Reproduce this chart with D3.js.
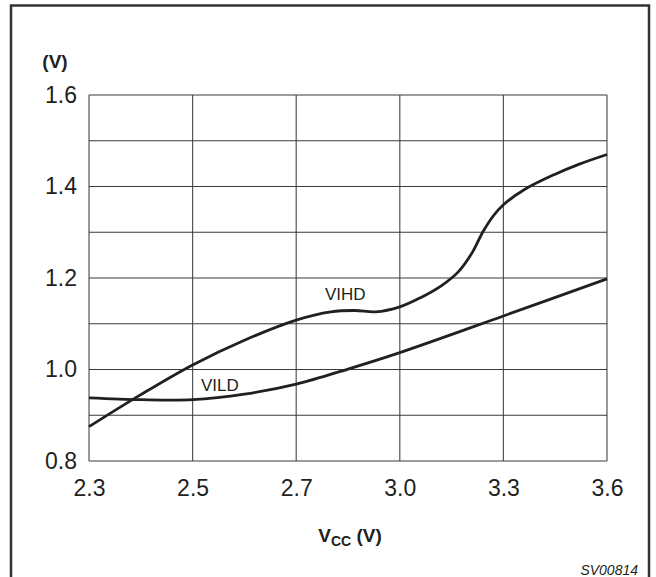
<!DOCTYPE html>
<html>
<head>
<meta charset="utf-8">
<script src="https://cdn.jsdelivr.net/npm/d3@7"></script>
<style>
  body { margin: 0; background: #fff; }
  text { font-family: "Liberation Sans", Arial, Helvetica, sans-serif; fill: #231f20; }
</style>
</head>
<body>
<div id="chart"></div>
<script>
// chart size
const svgWidth = 656, svgHeight = 577;
const margin = { left: 89, right: 49, top: 95, bottom: 116 };
const plotW = svgWidth - margin.left - margin.right;
const plotH = svgHeight - margin.top - margin.bottom;

// tick labels (x ticks are evenly spaced even though values are not)
const xTicks = [2.3, 2.5, 2.7, 3.0, 3.3, 3.6];
const yTicks = [0.8, 1.0, 1.2, 1.4, 1.6];
const yGrid = [0.8, 0.9, 1.0, 1.1, 1.2, 1.3, 1.4, 1.5, 1.6];

// VIHD curve
const vihdVcc = [2.3, 2.4, 2.5, 2.6, 2.7, 2.8, 2.87, 2.93, 3.0, 3.06, 3.12, 3.17, 3.21, 3.24, 3.27, 3.3, 3.36, 3.45, 3.52, 3.6];
const vihdV   = [0.875, 0.945, 1.010, 1.064, 1.108, 1.126, 1.129, 1.126, 1.137, 1.157, 1.183, 1.214, 1.256, 1.300, 1.335, 1.360, 1.393, 1.427, 1.449, 1.470];

// VILD curve
const vildVcc = [2.3, 2.4, 2.5, 2.6, 2.7, 2.85, 3.0, 3.3, 3.6];
const vildV   = [0.938, 0.934, 0.934, 0.946, 0.968, 1.001, 1.037, 1.117, 1.198];

const svg = d3.select('#chart')
  .append('svg')
    .attr('width', svgWidth)
    .attr('height', svgHeight);

// outer frame
svg.append('rect')
    .attr('x', 11)
    .attr('y', 5.5)
    .attr('width', 638)
    .attr('height', 600)
    .attr('fill', 'none')
    .attr('stroke', '#333')
    .attr('stroke-width', 2.5);

const x = d3.scaleLinear()
    .domain(xTicks)
    .range(xTicks.map((d, i) => margin.left + i * plotW / (xTicks.length - 1)));

const y = d3.scaleLinear()
    .domain([0.8, 1.6])
    .range([margin.top + plotH, margin.top]);

// grid
const grid = svg.append('g').attr('stroke', '#3a3a3a').attr('stroke-width', 1.2);
grid.selectAll('line.v')
  .data(xTicks)
  .join('line')
    .attr('class', 'v')
    .attr('x1', d => x(d)).attr('x2', d => x(d))
    .attr('y1', y(1.6)).attr('y2', y(0.8))
    .attr('stroke', '#555');
grid.selectAll('line.h')
  .data(yGrid)
  .join('line')
    .attr('class', 'h')
    .attr('x1', x(2.3)).attr('x2', x(3.6))
    .attr('y1', d => y(d)).attr('y2', d => y(d));

// axes (labels only)
const xAxis = svg.append('g')
    .attr('transform', `translate(0,${margin.top + plotH})`)
    .call(d3.axisBottom(x).tickValues(xTicks).tickFormat(d3.format('.1f')).tickSize(0).tickPadding(19));
const yAxis = svg.append('g')
    .attr('transform', `translate(${margin.left},0)`)
    .call(d3.axisLeft(y).tickValues(yTicks).tickFormat(d3.format('.1f')).tickSize(0).tickPadding(12));
[xAxis, yAxis].forEach(a => {
  a.select('.domain').remove();
  a.selectAll('text')
    .attr('font-size', 23)
    .attr('font-family', '"Liberation Sans", Arial, sans-serif')
    .attr('fill', '#231f20');
});

// curves
const line = d3.line()
    .x(d => x(d[0]))
    .y(d => y(d[1]))
    .curve(d3.curveCatmullRom.alpha(0.5));

svg.append('path')
    .datum(d3.zip(vihdVcc, vihdV))
    .attr('d', line)
    .attr('fill', 'none')
    .attr('stroke', '#231f20')
    .attr('stroke-width', 2.8);

svg.append('path')
    .datum(d3.zip(vildVcc, vildV))
    .attr('d', line)
    .attr('fill', 'none')
    .attr('stroke', '#231f20')
    .attr('stroke-width', 2.8);

// curve labels
svg.append('text')
    .attr('x', 325).attr('y', 300)
    .attr('font-size', 17)
    .text('VIHD');
svg.append('text')
    .attr('x', 201).attr('y', 391)
    .attr('font-size', 17)
    .text('VILD');

// axis titles
svg.append('text')
    .attr('x', 55).attr('y', 68)
    .attr('text-anchor', 'middle')
    .attr('font-size', 19)
    .attr('font-weight', 'bold')
    .text('(V)');

const xTitle = svg.append('text')
    .attr('x', 350).attr('y', 542)
    .attr('text-anchor', 'middle')
    .attr('font-size', 19)
    .attr('font-weight', 'bold');
xTitle.append('tspan').text('V');
xTitle.append('tspan').attr('font-size', 14).attr('dy', 4).text('CC');
xTitle.append('tspan').attr('dy', -4).text(' (V)');

svg.append('text')
    .attr('x', 638).attr('y', 575)
    .attr('text-anchor', 'end')
    .attr('font-size', 14)
    .attr('font-style', 'italic')
    .text('SV00814');
</script>
</body>
</html>
